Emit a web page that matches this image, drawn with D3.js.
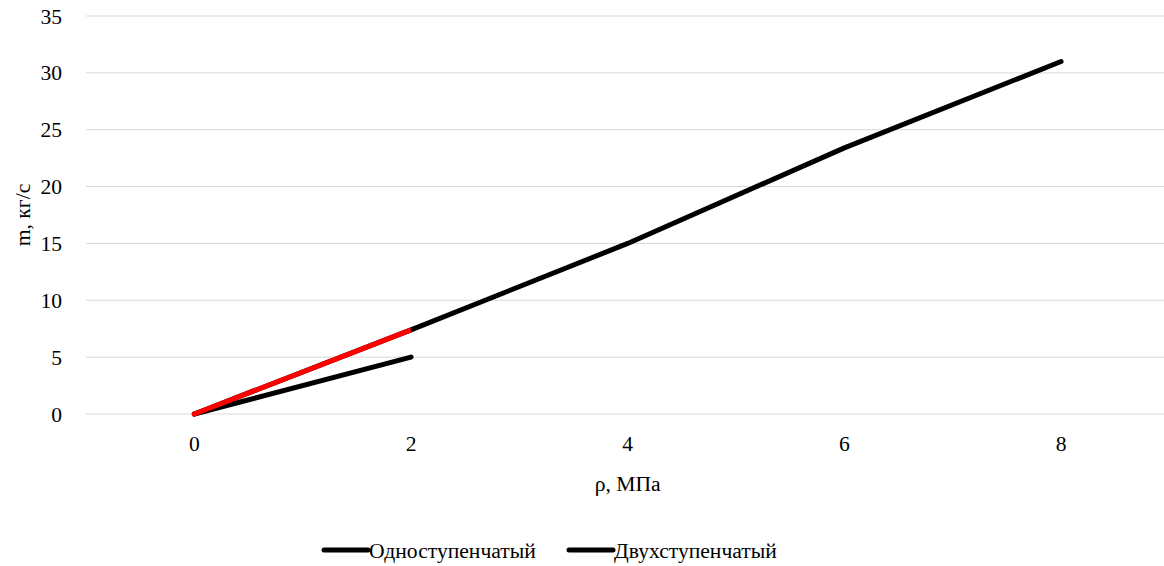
<!DOCTYPE html>
<html>
<head>
<meta charset="utf-8">
<script src="https://cdn.jsdelivr.net/npm/d3@7"></script>
<style>
  body { margin: 0; background: #fff; }
</style>
</head>
<body>
<svg id="chart" width="1164" height="566"></svg>
<script>
// chart values
const pressure = [0, 2, 4, 6, 8];
const oneStage = [0, 5];
const twoStage = [0, 7.4, 15, 23.4, 31];
const seriesNames = ["Одноступенчатый", "Двухступенчатый"];
const xTicks = [0, 2, 4, 6, 8];
const yTicks = [0, 5, 10, 15, 20, 25, 30, 35];

const FONT = "'Liberation Serif', 'Times New Roman', 'DejaVu Serif', serif";
const svg = d3.select("#chart")
  .attr("font-family", FONT)
  .attr("font-size", 21.6);
const plotL = 86, plotR = 1164, plotT = 16, plotB = 414;

const x = d3.scaleLinear().domain([-1, 8.95]).range([plotL, plotR]);
const y = d3.scaleLinear().domain([0, 35]).range([plotB, plotT]);

// gridlines
svg.append("g")
  .selectAll("line")
  .data(yTicks)
  .join("line")
  .attr("x1", plotL).attr("x2", plotR)
  .attr("y1", d => y(d)).attr("y2", d => y(d))
  .attr("stroke", "#d9d9d9").attr("stroke-width", 1);

// y tick labels
svg.append("g")
  .selectAll("text")
  .data(yTicks)
  .join("text")
  .attr("x", 62).attr("y", d => y(d))
  .attr("dy", "0.35em")
  .attr("text-anchor", "end")
  .text(d => d);

// x tick labels
svg.append("g")
  .selectAll("text")
  .data(xTicks)
  .join("text")
  .attr("x", d => x(d)).attr("y", 443)
  .attr("dy", "0.35em")
  .attr("text-anchor", "middle")
  .text(d => d);

// axis titles
svg.append("text")
  .attr("x", x(4)).attr("y", 483).attr("dy", "0.35em")
  .attr("text-anchor", "middle")
  .text("ρ, МПа");

svg.append("text")
  .attr("transform", `translate(22,${(plotT + plotB) / 2}) rotate(-90)`)
  .attr("dy", "0.35em")
  .attr("text-anchor", "middle")
  .text("m, кг/с");

const line = d3.line()
  .x(d => x(d[0]))
  .y(d => y(d[1]));

const pts1 = oneStage.map((v, i) => [pressure[i], v]);
const pts2 = twoStage.map((v, i) => [pressure[i], v]);

// one stage
svg.append("path")
  .attr("d", line(pts1))
  .attr("fill", "none").attr("stroke", "#000")
  .attr("stroke-width", 5)
  .attr("stroke-linecap", "round").attr("stroke-linejoin", "round");

// two stage
svg.append("path")
  .attr("d", line(pts2))
  .attr("fill", "none").attr("stroke", "#000")
  .attr("stroke-width", 5)
  .attr("stroke-linecap", "round").attr("stroke-linejoin", "round");

// first segment of two stage is highlighted red
svg.append("path")
  .attr("d", line(pts2.slice(0, 2)))
  .attr("fill", "none").attr("stroke", "#ff0000")
  .attr("stroke-width", 5)
  .attr("stroke-linecap", "butt");
svg.append("circle")
  .attr("cx", x(pts2[0][0])).attr("cy", y(pts2[0][1]))
  .attr("r", 2.5).attr("fill", "#ff0000");

// legend
const legendX = [322, 567];
const lg = svg.append("g")
  .selectAll("g")
  .data(seriesNames)
  .join("g")
  .attr("transform", (d, i) => `translate(${legendX[i]},550)`);

lg.append("line")
  .attr("x1", 2).attr("x2", 46)
  .attr("stroke", "#000").attr("stroke-width", 5)
  .attr("stroke-linecap", "round");

lg.append("text")
  .attr("x", 47).attr("dy", "0.35em")
  .text(d => d);
</script>
</body>
</html>
